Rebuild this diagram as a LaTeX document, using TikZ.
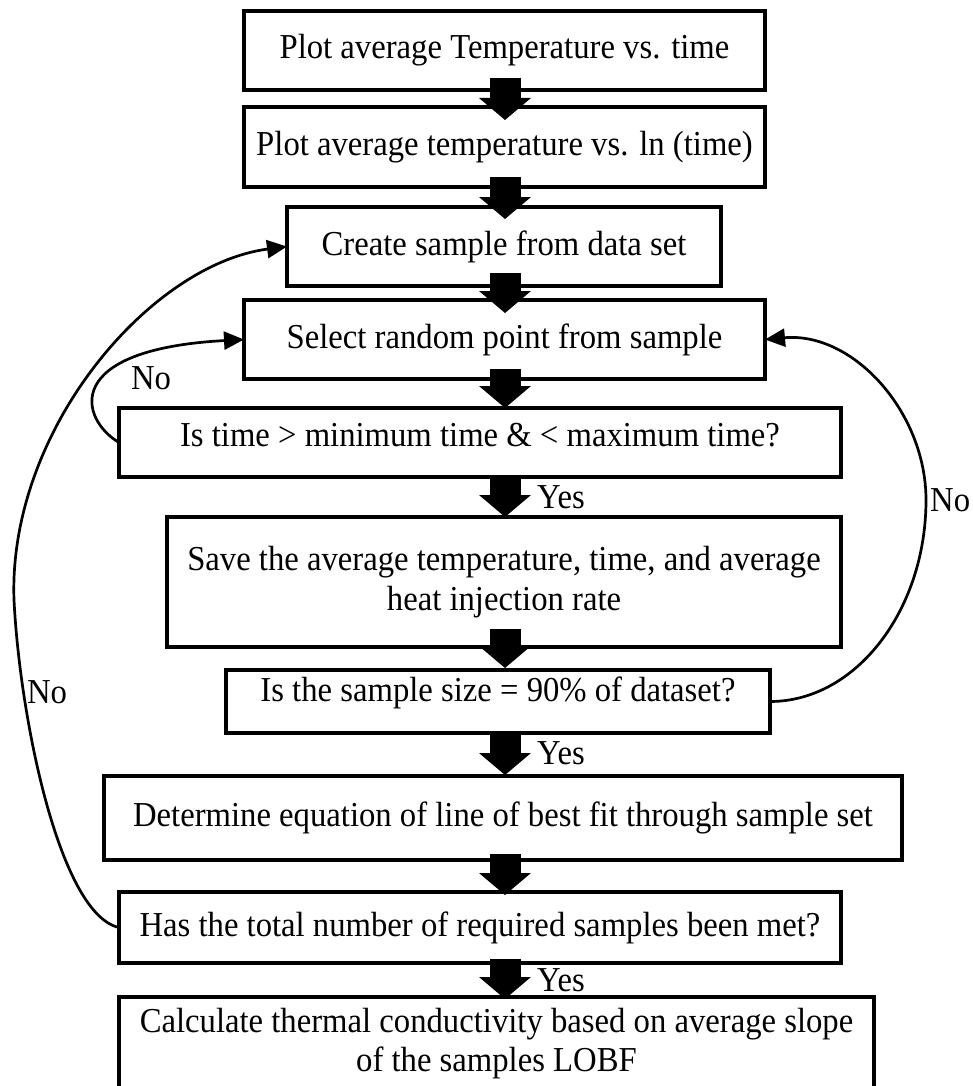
\documentclass[tikz,border=0pt]{standalone}
\usepackage{fontspec}
\setmainfont{Liberation Serif}[FakeStretch=0.934]
\usetikzlibrary{arrows.meta,calc}
\begin{document}
\begin{tikzpicture}[x=1pt,y=-1pt,
  box/.style={draw, line width=3.3pt, fill=white, inner sep=2pt, outer sep=0pt, align=center, font=\fontsize{35}{40.5}\selectfont},
  blockarrow/.style={line width=31pt, -{Triangle[length=22pt,width=52pt,line width=0pt]}},
  loopline/.style={line width=2.7pt, -{Triangle[length=20pt,width=18pt]}},
  lbl/.style={inner sep=0pt, font=\fontsize{35}{40}\selectfont}]
\useasboundingbox (0,0) rectangle (972,1086);
\node[box, minimum width=521pt, minimum height=79pt] (b1) at (504.5,50.5) {Plot average Temperature vs. time};
\node[box, minimum width=521pt, minimum height=80pt] (b2) at (504.5,147) {Plot average temperature vs. ln (time)};
\node[box, minimum width=434pt, minimum height=79pt] (b3) at (504,246.5) {Create sample from data set};
\node[box, minimum width=521pt, minimum height=79pt] (b4) at (504.5,339.5) {Select random point from sample};
\node[box, minimum width=722pt, minimum height=69pt, text height=24pt, text depth=17pt] (b5) at (480,442.5) {Is time > minimum time \& < maximum time?};
\node[box, minimum width=674pt, minimum height=130pt] (b6) at (504,582) {Save the average temperature, time, and average\\heat injection rate};
\node[box, minimum width=544pt, minimum height=63pt, text height=24pt, text depth=24pt] (b7) at (498,701.5) {Is the sample size = 90\% of dataset?};
\node[box, minimum width=798pt, minimum height=84pt] (b8) at (503,818) {Determine equation of line of best fit through sample set};
\node[box, minimum width=722pt, minimum height=71pt] (b9) at (480,927.5) {Has the total number of required samples been met?};
\node[box, minimum width=755pt, minimum height=93pt, font=\fontsize{35}{39}\selectfont] (b10) at (496.5,1043.5) {Calculate thermal conductivity based on average slope\\of the samples LOBF};

\coordinate (ax) at (505,0);
\draw[blockarrow] ($(b1.south -| ax)+(0,-12)$) -- ($(b2.north -| ax)+(0,13)$);
\draw[blockarrow] ($(b2.south -| ax)+(0,-10)$) -- ($(b3.north -| ax)+(0,12)$);
\draw[blockarrow] ($(b3.south -| ax)+(0,-13)$) -- ($(b4.north -| ax)+(0,13)$);
\draw[blockarrow] ($(b4.south -| ax)+(0,-10)$) -- ($(b5.north -| ax)+(0,0)$);
\draw[blockarrow] ($(b5.south -| ax)+(0,0)$) -- ($(b6.north -| ax)+(0,0)$);
\draw[blockarrow] ($(b6.south -| ax)+(0,-18)$) -- ($(b7.north -| ax)+(0,-2)$);
\draw[blockarrow] ($(b7.south -| ax)+(0,0)$) -- ($(b8.north -| ax)+(0,-1)$);
\draw[blockarrow] ($(b8.south -| ax)+(0,-6)$) -- ($(b9.north -| ax)+(0,3)$);
\draw[blockarrow] ($(b9.south -| ax)+(0,-4)$) -- ($(b10.north -| ax)+(0,2)$);

\node[lbl, anchor=west] (y1) at (537,497) {Yes};
\node[lbl, anchor=west] (y2) at (537,753) {Yes};
\node[lbl, anchor=west] (y3) at (537,980) {Yes};

\coordinate (lp) at (14,600);
\coordinate (rp) at (926,500);
\draw[loopline] (b9.west) .. controls +(-59,-13) and +(6,120) .. (lp) .. controls +(-6,-170) and +(-137,18) .. (b3.west);
\draw[loopline] (b5.west) .. controls +(-39,-23) and +(-184,10) .. (b4.west);
\draw[loopline] (b7.east) .. controls +(86,0) and +(0,110) .. (rp) .. controls +(0,-88) and +(88,-8) .. (b4.east);

\node[lbl] (n1) at (151,378) {No};
\node[lbl, anchor=west] (n2) at (930,500) {No};
\node[lbl] (n3) at (47,692) {No};
\end{tikzpicture}
\end{document}
